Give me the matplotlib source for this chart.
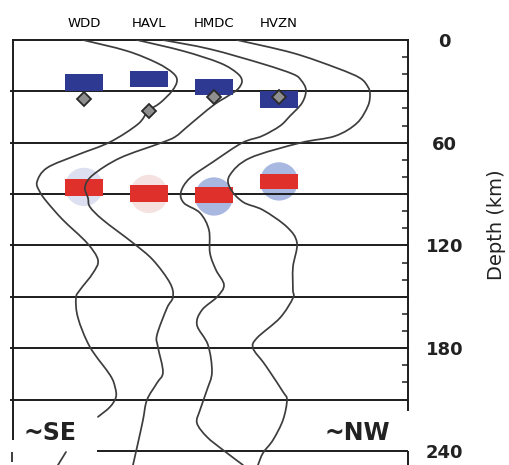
import matplotlib.pyplot as plt
from matplotlib.path import Path
from matplotlib.patches import PathPatch

# stations along the profile (SE -> NW)
stations = ["WDD", "HAVL", "HMDC", "HVZN"]
station_x = [1, 2, 3, 4]

# upper interface picks (blue bars), depth range in km
upper_top = [19.7, 18.1, 22.7, 29.8]
upper_bot = [29.5, 27.7, 32.3, 40.0]

# lower interface picks (red bars), depth range in km
lower_top = [81.2, 84.7, 85.8, 78.2]
lower_bot = [90.9, 94.6, 95.2, 87.0]

# shaded circles behind the lower picks
circle_depth = [85.8, 89.9, 91.4, 82.6]
circle_colors = ["#dde0f0", "#f6e1e1", "#a9b8e0", "#a9b8e0"]

# diamonds (independent crustal thickness estimates)
diamond_depth = [34.2, 41.2, 33.5, 33.1]

# stacked traces: horizontal position (station spacing units) vs depth (km)
trace1_x = [0.985, 1.662, 2.123, 2.369, 2.431, 2.354, 2.169, 1.985, 1.831, 1.400,
            0.892, 0.431, 0.277, 0.323, 0.431, 0.677, 1.046, 1.215, 1.138, 0.938,
            0.877, 0.908, 1.092, 1.400, 1.477, 1.492, 1.400, 1.215]
trace1_d = [0.0, 6.4, 13.4, 19.3, 23.9, 29.8, 36.8, 41.5, 49.1, 59.6,
            67.2, 74.7, 82.9, 88.8, 94.6, 105.1, 118.5, 128.5, 136.1, 146.0,
            150.7, 162.3, 179.3, 195.6, 202.6, 208.5, 214.3, 220.1]
trace1_tail_x = [0.723, 0.600]
trace1_tail_d = [240.6, 248.2]

trace2_x = [1.815, 2.523, 3.092, 3.354, 3.431, 3.369, 3.215, 3.015, 2.785, 2.585,
            2.400, 2.185, 1.554, 1.138, 1.015, 1.062, 1.092, 1.292, 1.754, 2.062,
            2.323, 2.369, 2.277, 2.123, 2.138, 2.215, 2.123, 1.969, 1.908, 1.831,
            1.754]
trace2_d = [0.0, 6.4, 13.4, 19.3, 23.9, 28.6, 32.7, 37.4, 44.4, 50.8,
            56.6, 60.1, 68.9, 78.8, 85.8, 92.3, 97.5, 105.1, 118.5, 128.5,
            141.9, 150.1, 156.5, 172.3, 179.3, 193.9, 200.3, 210.2, 221.9, 235.3,
            248.2]

trace3_x = [2.215, 2.938, 3.754, 4.215, 4.338, 4.415, 4.354, 4.169, 4.015, 3.738,
            3.431, 2.985, 2.631, 2.492, 2.538, 2.785, 2.923, 2.938, 3.031, 3.154,
            3.046, 2.815, 2.738, 2.908, 2.969, 2.892, 2.785, 2.738, 2.892, 3.138,
            3.446]
trace3_d = [0.0, 5.3, 14.0, 19.9, 23.4, 29.2, 36.8, 44.4, 50.2, 56.1,
            60.1, 71.2, 80.6, 88.8, 95.2, 101.0, 111.0, 124.4, 134.3, 143.1,
            150.1, 157.7, 166.4, 178.1, 193.9, 204.4, 216.1, 223.7, 231.8, 239.4,
            248.2]

trace4_x = [3.354, 4.215, 4.892, 5.246, 5.369, 5.400, 5.369, 5.200, 4.862, 4.323,
            3.554, 3.246, 3.246, 3.446, 3.754, 4.123, 4.277, 4.215, 4.215, 4.215,
            4.015, 3.662, 3.600, 3.754, 3.862, 4.062, 4.123, 4.062, 3.908, 3.754,
            3.677]
trace4_d = [0.0, 7.6, 16.4, 22.2, 27.4, 31.5, 38.5, 48.5, 56.1, 60.1,
            68.9, 78.8, 86.4, 94.6, 99.3, 109.2, 118.5, 132.6, 146.0, 150.7,
            162.3, 174.0, 179.9, 188.0, 193.9, 205.5, 210.2, 221.9, 233.6, 241.2,
            248.2]

depth_lines = [30, 60, 90, 120, 150, 180, 210]
depth_labels = [0, 60, 120, 180, 240]
minor_depths = [10, 20, 40, 50, 70, 80, 100, 110, 130, 140, 160, 170, 190, 200]

xmin, xmax = -0.092, 5.985
dmin, dmax = 0, 248.2
line_c = "#1c1c1c"
trace_c = "#3d3d3d"


def smooth_path(xs, ys):
    # Catmull-Rom through the picked points, drawn as cubic Bezier pieces
    pts = list(zip(xs, ys))
    verts = [pts[0]]
    codes = [Path.MOVETO]
    n = len(pts)
    for i in range(n - 1):
        p0 = pts[max(i - 1, 0)]
        p1, p2 = pts[i], pts[i + 1]
        p3 = pts[min(i + 2, n - 1)]
        c1 = (p1[0] + (p2[0] - p0[0]) / 6, p1[1] + (p2[1] - p0[1]) / 6)
        c2 = (p2[0] - (p3[0] - p1[0]) / 6, p2[1] - (p3[1] - p1[1]) / 6)
        verts += [c1, c2, p2]
        codes += [Path.CURVE4] * 3
    return Path(verts, codes)


fig = plt.figure(figsize=(5.1, 4.65), dpi=100)
ax = fig.add_axes([13 / 510, 0, 395 / 510, 1 - 40 / 465])
ax.set_xlim(xmin, xmax)
ax.set_ylim(dmax, dmin)

# depth grid
for d in depth_lines:
    ax.axhline(d, xmin=-0.006, color=line_c, lw=1.4, zorder=1.5, clip_on=False)

# shading + interface bars
ax.scatter(station_x, circle_depth, s=760, c=circle_colors, edgecolors="none", zorder=1)
lower_h = [b - t for t, b in zip(lower_top, lower_bot)]
upper_h = [b - t for t, b in zip(upper_top, upper_bot)]
ax.bar(station_x, lower_h, bottom=lower_top, width=0.58, color="#e0302b", zorder=2)

for tx, td in [(trace1_x, trace1_d), (trace1_tail_x, trace1_tail_d),
               (trace2_x, trace2_d), (trace3_x, trace3_d), (trace4_x, trace4_d)]:
    ax.add_patch(PathPatch(smooth_path(tx, td), fc="none", ec=trace_c, lw=1.25,
                           capstyle="round", zorder=3))

ax.bar(station_x, upper_h, bottom=upper_top, width=0.58, color="#2e3a92", zorder=4)
ax.plot(station_x, diamond_depth, ls="none", marker="D", ms=7, mfc="#8f8f8f",
        mec="#2a2a2a", mew=1.3, zorder=5)

# frame
ax.spines["bottom"].set_visible(False)
for s in ["top", "left", "right"]:
    ax.spines[s].set_linewidth(1.4)
    ax.spines[s].set_color(line_c)
ax.spines["right"].set_bounds(0, 216)
ax.spines["left"].set_bounds(0, 233)

# lower panel edge
ax.hlines(240, 1.2, xmax, color=line_c, lw=1.4, clip_on=False)
ax.vlines(xmax, 240, dmax, color=line_c, lw=1.4, clip_on=False)
ax.vlines(xmin - 0.02, 240.5, dmax - 1.5, color=line_c, lw=1.2, clip_on=False)

# station names on top
ax.xaxis.tick_top()
ax.set_xticks(station_x, stations)
ax.tick_params(axis="x", length=0, pad=7.5, labelsize=9.5)

# depth axis on the right
ax.yaxis.tick_right()
ax.set_yticks(depth_labels)
ax.set_yticks(minor_depths, minor=True)
ax.tick_params(axis="y", which="major", length=0, pad=26.5, labelsize=13)
ax.tick_params(axis="y", which="minor", direction="in", length=4.5, width=1.1,
               color=line_c, right=True, left=False)
for lab in ax.get_yticklabels():
    lab.set_fontweight("bold")
    lab.set_horizontalalignment("center")
    lab.set_color("#222222")

fig.text(497 / 510, 1 - 225 / 465, "Depth (km)", rotation=90, ha="center",
         va="center", fontsize=14, color="#222222")

ax.text(0.062, 229.5, "~SE", ha="left", va="center", fontsize=17,
        fontweight="bold", color="#222222")
ax.text(5.708, 229.5, "~NW", ha="right", va="center", fontsize=17,
        fontweight="bold", color="#222222")

fig.savefig("out.png", dpi=100)
